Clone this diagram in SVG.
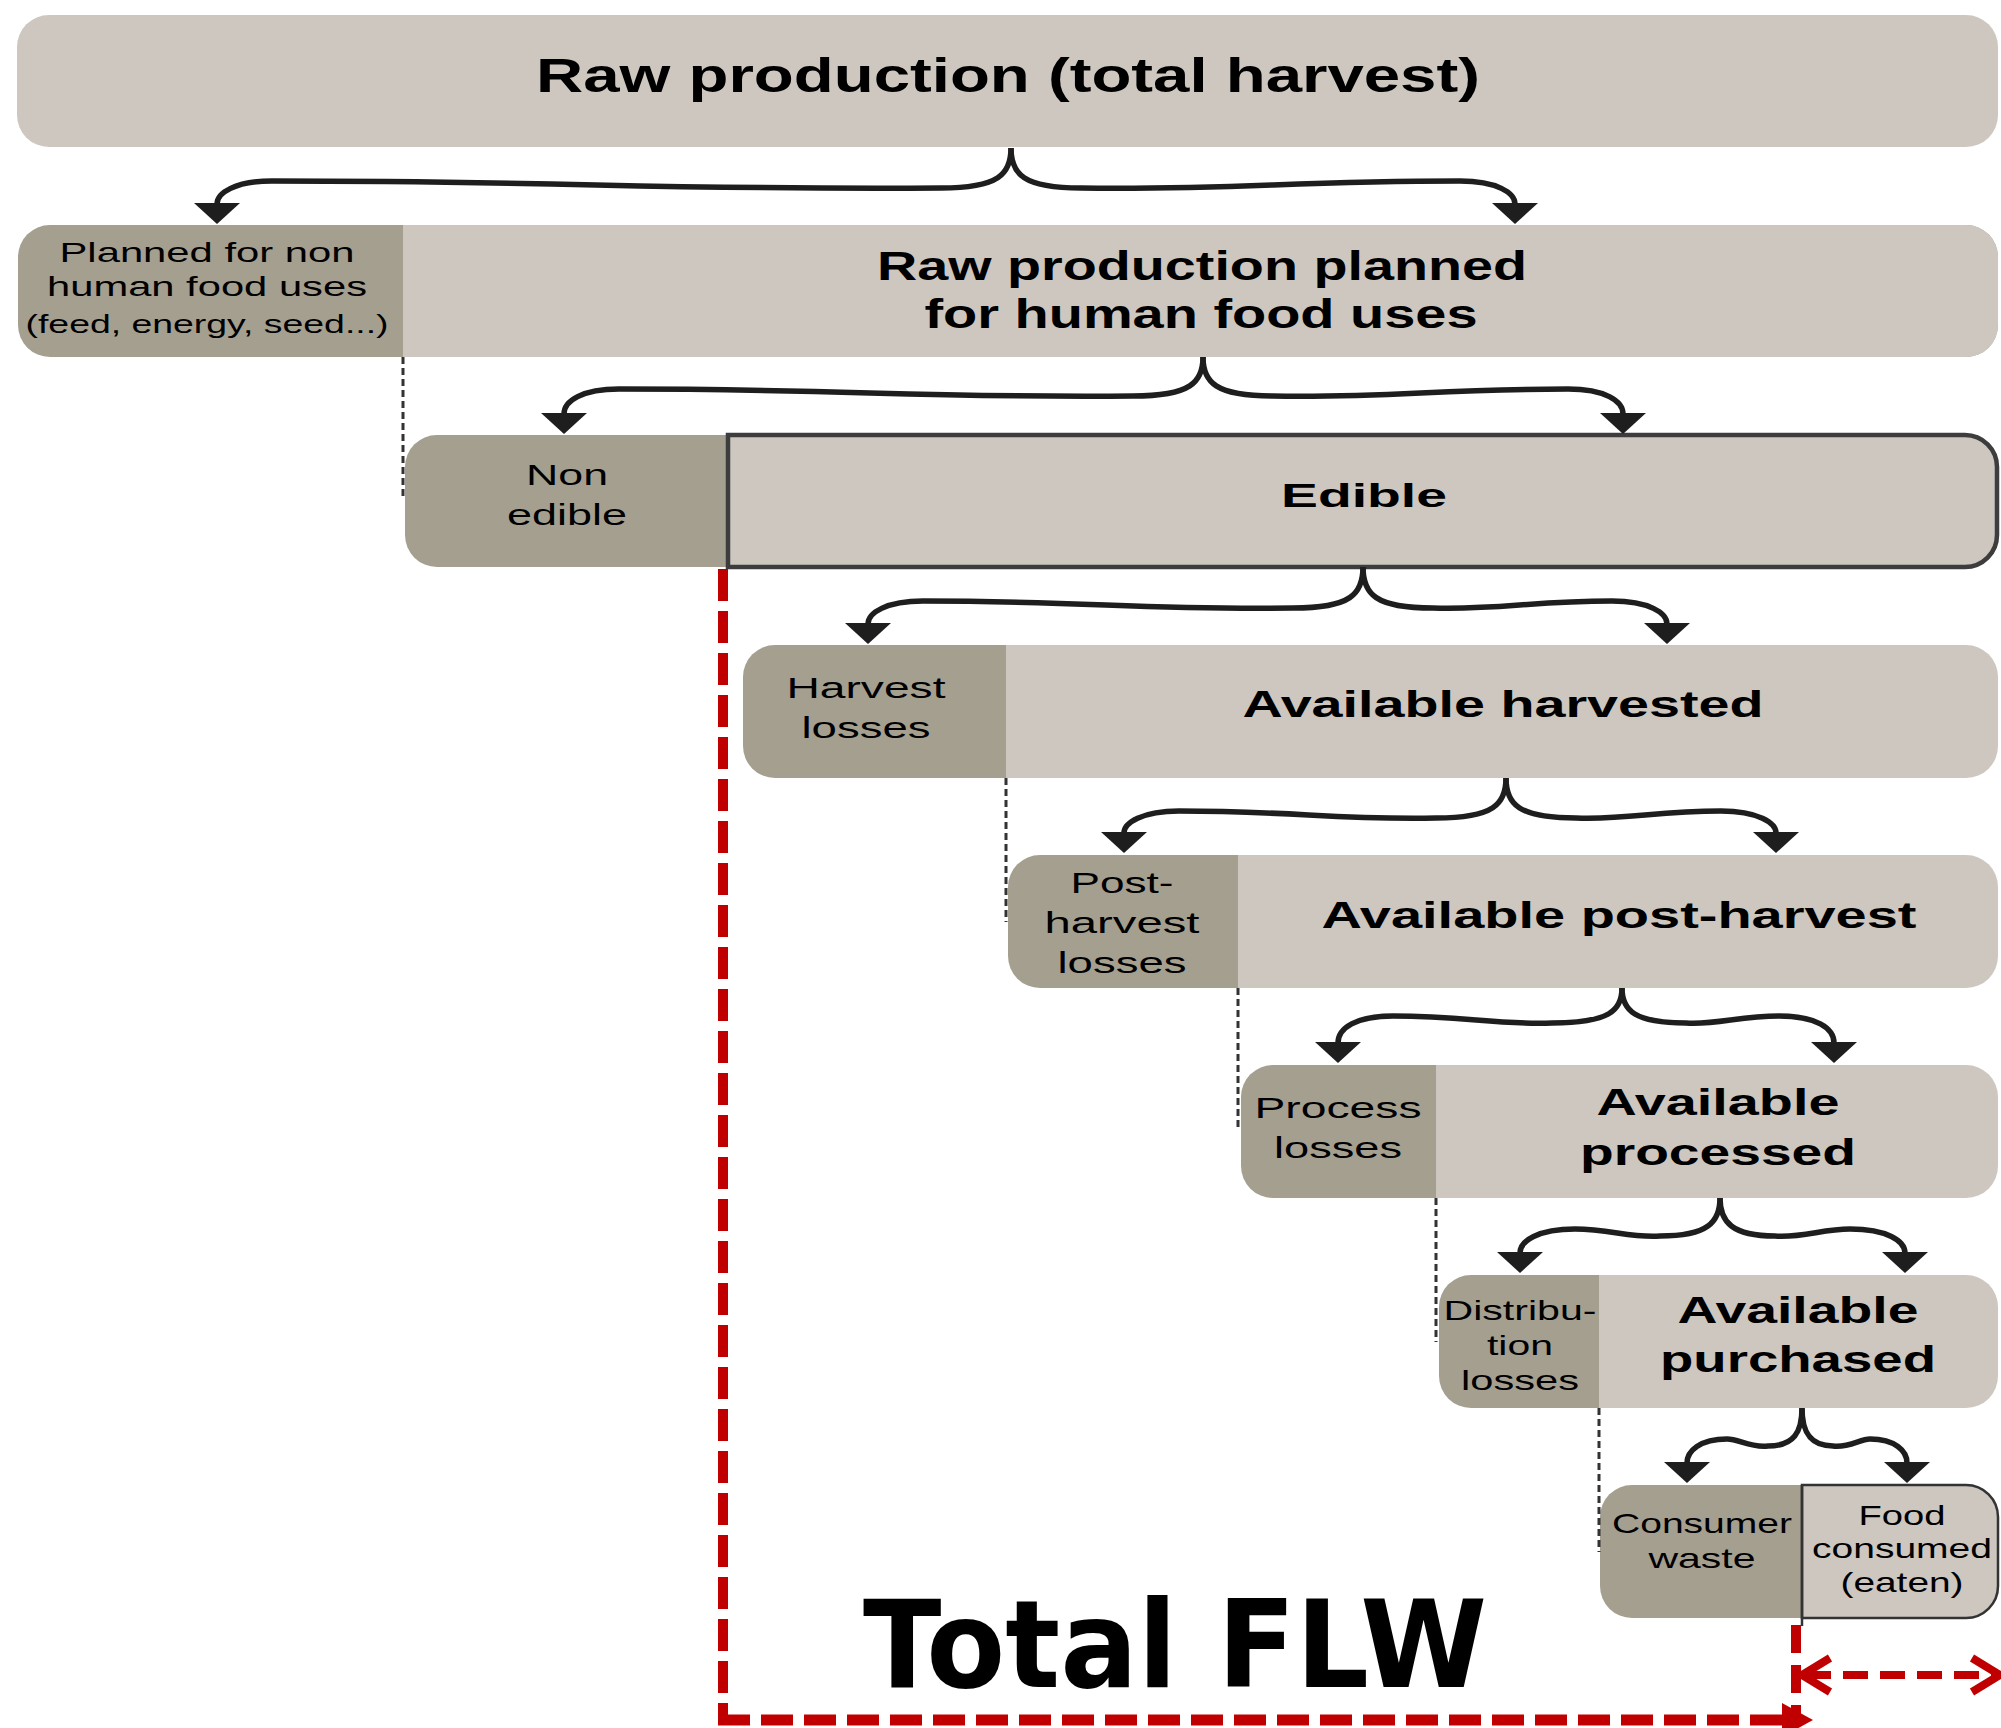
<svg xmlns="http://www.w3.org/2000/svg" width="2001" height="1728" viewBox="0 0 2001 1728">
<defs>
<style>
.lt{fill:#CDC7C0}
.dk{fill:#A59F90}
.t{font-family:"Liberation Sans",Arial,sans-serif;fill:#000;text-anchor:middle}
.b{font-weight:bold}
.br{fill:none;stroke:#1e1e1e;stroke-width:5.5;marker-end:url(#ah)}
.dd{fill:none;stroke:#333;stroke-width:3;stroke-dasharray:7 4}
.rd{fill:none;stroke:#C00000}
</style>
<marker id="ah" markerUnits="userSpaceOnUse" viewBox="0 0 21 46" refX="1" refY="23" markerWidth="21" markerHeight="46" orient="auto">
<path d="M0,0 L21,23 L0,46 Z" fill="#1e1e1e"/>
</marker>
</defs>
<rect width="2001" height="1728" fill="#fff"/>

<g id="raw-production">
<rect class="lt" x="17" y="15" width="1981" height="132" rx="32"/>
<text class="t b" x="1008" y="92" font-size="49" textLength="944" lengthAdjust="spacingAndGlyphs">Raw production (total harvest)</text>
</g>

<g id="planned-non-human">
<rect class="dk" x="18" y="225" width="1980" height="132" rx="32"/>
<text class="t" x="207" y="262" font-size="28" textLength="295" lengthAdjust="spacingAndGlyphs">Planned for non</text>
<text class="t" x="207" y="296" font-size="28" textLength="320" lengthAdjust="spacingAndGlyphs">human food uses</text>
<text class="t" x="207" y="333" font-size="26" textLength="363" lengthAdjust="spacingAndGlyphs">(feed, energy, seed...)</text>
</g>
<g id="raw-planned-human">
<path class="lt" d="M403,225 H1966 A32,32 0 0 1 1998,257 V325 A32,32 0 0 1 1966,357 H403 Z"/>
<text class="t b" x="1202" y="280" font-size="40" textLength="650" lengthAdjust="spacingAndGlyphs">Raw production planned</text>
<text class="t b" x="1201" y="328" font-size="40" textLength="553" lengthAdjust="spacingAndGlyphs">for human food uses</text>
</g>

<g id="non-edible">
<rect class="dk" x="405" y="435" width="400" height="132" rx="32"/>
<text class="t" x="567" y="485" font-size="30" textLength="82" lengthAdjust="spacingAndGlyphs">Non</text>
<text class="t" x="567" y="525" font-size="30" textLength="120" lengthAdjust="spacingAndGlyphs">edible</text>
</g>
<g id="edible">
<path d="M728,435 H1965 A32,32 0 0 1 1997,467 V535 A32,32 0 0 1 1965,567 H728 Z" fill="#CDC7C0" stroke="#3d3d3d" stroke-width="4.5"/>
<text class="t b" x="1364" y="507" font-size="34" textLength="166" lengthAdjust="spacingAndGlyphs">Edible</text>
</g>

<g id="harvest-losses">
<rect class="dk" x="743" y="645" width="400" height="133" rx="32"/>
<text class="t" x="866" y="698" font-size="30" textLength="159" lengthAdjust="spacingAndGlyphs">Harvest</text>
<text class="t" x="866" y="738" font-size="30" textLength="129" lengthAdjust="spacingAndGlyphs">losses</text>
</g>
<g id="available-harvested">
<path class="lt" d="M1006,645 H1966 A32,32 0 0 1 1998,677 V746 A32,32 0 0 1 1966,778 H1006 Z"/>
<text class="t b" x="1503" y="717" font-size="37" textLength="521" lengthAdjust="spacingAndGlyphs">Available harvested</text>
</g>

<g id="post-harvest-losses">
<rect class="dk" x="1008" y="855" width="400" height="133" rx="32"/>
<text class="t" x="1122" y="893" font-size="30" textLength="103" lengthAdjust="spacingAndGlyphs">Post-</text>
<text class="t" x="1122" y="933" font-size="30" textLength="155" lengthAdjust="spacingAndGlyphs">harvest</text>
<text class="t" x="1122" y="973" font-size="30" textLength="129" lengthAdjust="spacingAndGlyphs">losses</text>
</g>
<g id="available-post-harvest">
<path class="lt" d="M1238,855 H1966 A32,32 0 0 1 1998,887 V956 A32,32 0 0 1 1966,988 H1238 Z"/>
<text class="t b" x="1619" y="928" font-size="37" textLength="595" lengthAdjust="spacingAndGlyphs">Available post-harvest</text>
</g>

<g id="process-losses">
<rect class="dk" x="1241" y="1065" width="400" height="133" rx="32"/>
<text class="t" x="1338" y="1118" font-size="30" textLength="167" lengthAdjust="spacingAndGlyphs">Process</text>
<text class="t" x="1338" y="1158" font-size="30" textLength="128" lengthAdjust="spacingAndGlyphs">losses</text>
</g>
<g id="available-processed">
<path class="lt" d="M1436,1065 H1966 A32,32 0 0 1 1998,1097 V1166 A32,32 0 0 1 1966,1198 H1436 Z"/>
<text class="t b" x="1718" y="1115" font-size="36" textLength="243" lengthAdjust="spacingAndGlyphs">Available</text>
<text class="t b" x="1718" y="1165" font-size="36" textLength="276" lengthAdjust="spacingAndGlyphs">processed</text>
</g>

<g id="distribution-losses">
<rect class="dk" x="1439" y="1275" width="400" height="133" rx="32"/>
<text class="t" x="1520" y="1320" font-size="28" textLength="153" lengthAdjust="spacingAndGlyphs">Distribu-</text>
<text class="t" x="1520" y="1355" font-size="28" textLength="66" lengthAdjust="spacingAndGlyphs">tion</text>
<text class="t" x="1520" y="1390" font-size="28" textLength="118" lengthAdjust="spacingAndGlyphs">losses</text>
</g>
<g id="available-purchased">
<path class="lt" d="M1599,1275 H1966 A32,32 0 0 1 1998,1307 V1376 A32,32 0 0 1 1966,1408 H1599 Z"/>
<text class="t b" x="1798" y="1323" font-size="36" textLength="241" lengthAdjust="spacingAndGlyphs">Available</text>
<text class="t b" x="1798" y="1372" font-size="36" textLength="276" lengthAdjust="spacingAndGlyphs">purchased</text>
</g>

<g id="consumer-waste">
<rect class="dk" x="1600" y="1485" width="300" height="133" rx="32"/>
<text class="t" x="1702" y="1533" font-size="28" textLength="180" lengthAdjust="spacingAndGlyphs">Consumer</text>
<text class="t" x="1702" y="1568" font-size="28" textLength="107" lengthAdjust="spacingAndGlyphs">waste</text>
</g>
<g id="food-consumed">
<path d="M1802,1485 H1966 A32,32 0 0 1 1998,1517 V1586 A32,32 0 0 1 1966,1618 H1802 Z" fill="#CDC7C0" stroke="#333" stroke-width="2.5"/>
<line x1="1802" y1="1485" x2="1802" y2="1626" stroke="#333" stroke-width="2.5"/>
<text class="t" x="1902" y="1525" font-size="28" textLength="87" lengthAdjust="spacingAndGlyphs">Food</text>
<text class="t" x="1902" y="1558" font-size="28" textLength="180" lengthAdjust="spacingAndGlyphs">consumed</text>
<text class="t" x="1902" y="1592" font-size="28" textLength="123" lengthAdjust="spacingAndGlyphs">(eaten)</text>
</g>

<g id="total-flw">
<text x="1175" y="1687" font-family="'DejaVu Sans',Verdana,sans-serif" font-weight="bold" font-size="121" text-anchor="middle" fill="#000" textLength="624" lengthAdjust="spacingAndGlyphs">Total FLW</text>
</g>

<g id="connectors">
<path class="br" d="M1011,148 C1011,174 1023,188 1081,188 C1238,190 1288,181 1460,181 C1497,181 1515,193 1515,204"/>
<path class="br" d="M1011,148 C1011,174 999,188 941,188 C654,190 574,181 272,181 C235,181 217,193 217,204"/>
<path class="br" d="M1203,357 C1203,382 1215,396 1273,396 C1392,398 1434,389 1568,389 C1605,389 1623,401 1623,414"/>
<path class="br" d="M1203,357 C1203,382 1191,396 1133,396 C915,398 852,389 619,389 C582,389 564,401 564,414"/>
<path class="br" d="M1363,567 C1363,594 1375,608 1433,608 C1500,610 1530,601 1612,601 C1649,601 1667,613 1667,624"/>
<path class="br" d="M1363,567 C1363,594 1351,608 1293,608 C1140,610 1091,601 923,601 C886,601 868,613 868,624"/>
<path class="br" d="M1506,778 C1506,804 1518,818 1576,818 C1628,820 1655,811 1721,811 C1758,811 1776,823 1776,833"/>
<path class="br" d="M1506,778 C1506,804 1494,818 1436,818 C1334,820 1296,811 1179,811 C1142,811 1124,823 1124,833"/>
<path class="br" d="M1622,988 C1622,1010 1634,1023 1686,1023 C1717,1025 1739,1016 1779,1016 C1816,1016 1834,1028 1834,1043"/>
<path class="br" d="M1622,988 C1622,1010 1610,1023 1552,1023 C1494,1025 1466,1016 1393,1016 C1356,1016 1338,1028 1338,1043"/>
<path class="br" d="M1720,1198 C1720,1222 1732,1236 1775,1236 C1803,1238 1822,1229 1850,1229 C1887,1229 1905,1241 1905,1253"/>
<path class="br" d="M1720,1198 C1720,1222 1708,1236 1660,1236 C1630,1238 1610,1229 1575,1229 C1538,1229 1520,1241 1520,1253"/>
<path class="br" d="M1802,1408 C1802,1432 1810,1446 1833,1446 C1849,1448 1860,1439 1870,1439 C1895,1439 1907,1451 1907,1463"/>
<path class="br" d="M1802,1408 C1802,1432 1794,1446 1768,1446 C1750,1448 1739,1439 1727,1439 C1700,1439 1687,1451 1687,1463"/>

<line class="dd" x1="403" y1="357" x2="403" y2="500"/>
<line class="dd" x1="1006" y1="778" x2="1006" y2="922"/>
<line class="dd" x1="1238" y1="988" x2="1238" y2="1130"/>
<line class="dd" x1="1436" y1="1198" x2="1436" y2="1342"/>
<line class="dd" x1="1599" y1="1408" x2="1599" y2="1552"/>

<line class="rd" x1="723" y1="569" x2="723" y2="1716" stroke-width="10" stroke-dasharray="32 10"/>
<line class="rd" x1="718" y1="1720" x2="1785" y2="1720" stroke-width="11" stroke-dasharray="32 11"/>
<polygon points="1782,1703 1813,1720 1782,1737" fill="#C00000"/>
<line class="rd" x1="1796" y1="1625" x2="1796" y2="1716" stroke-width="10" stroke-dasharray="28 12"/>
<line class="rd" x1="1806" y1="1675" x2="1995" y2="1675" stroke-width="8" stroke-dasharray="25 12"/>
<polyline class="rd" points="1830,1658 1802,1675 1830,1692" stroke-width="8"/>
<polyline class="rd" points="1972,1658 2000,1675 1972,1692" stroke-width="8"/>
</g>
</svg>
